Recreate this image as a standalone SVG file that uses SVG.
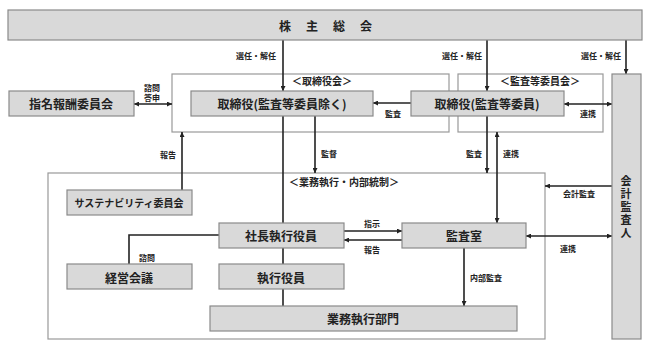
<svg xmlns="http://www.w3.org/2000/svg" width="651" height="348" viewBox="0 0 651 348">
<defs>
<marker id="ah" viewBox="0 0 6 6" refX="6" refY="3" markerWidth="5" markerHeight="5" markerUnits="userSpaceOnUse" orient="auto-start-reverse">
<path d="M0,0 L6,3 L0,6 z" fill="#222"/>
</marker>
<style>
.box{fill:#d9d9d9;stroke:#8a8a8a;stroke-width:1.2}
.frame{fill:#fff;stroke:#999;stroke-width:1.2}
.ln{fill:none;stroke:#222;stroke-width:1.6}
.a{marker-end:url(#ah)}
.b{marker-start:url(#ah);marker-end:url(#ah)}
text{font-family:"Noto Sans CJK JP","Noto Sans CJK SC",sans-serif;fill:#222;text-anchor:middle;dominant-baseline:central}
.t{font-size:12px;font-weight:bold}
.v{font-size:11px;font-weight:bold;writing-mode:vertical-rl;letter-spacing:2px}
.f{font-size:10px;font-weight:bold}
.s{font-size:8px;font-weight:bold}
</style>
</defs>
<rect width="651" height="348" fill="#fff"/>
<g id="frames">
<g id="frame-board"><rect class="frame" x="172" y="74" width="277" height="58"/><text class="f" x="322" y="80">＜取締役会＞</text></g>
<g id="frame-audit"><rect class="frame" x="458" y="74" width="145" height="58"/><text class="f" x="540" y="80">＜監査等委員会＞</text></g>
<g id="frame-exec"><rect class="frame" x="48" y="173" width="497" height="166"/><text class="f" x="344" y="181">＜業務執行・内部統制＞</text></g>
</g>
<g id="connectors">
<path class="ln a" d="M283,40 V91"/>
<path class="ln a" d="M487,40 V91"/>
<path class="ln a" d="M626,40 V74"/>
<path class="ln b" d="M134,104 H172"/>
<path class="ln a" d="M411,103 H373"/>
<path class="ln b" d="M564,104 H612"/>
<path class="ln a" d="M182,190 V132"/>
<path class="ln" d="M283,116 V223"/>
<path class="ln a" d="M315,116 V173"/>
<path class="ln a" d="M487,116 V173"/>
<path class="ln b" d="M497,132 V223"/>
<path class="ln a" d="M612,186 H545"/>
<path class="ln a" d="M344,231 H402"/>
<path class="ln a" d="M402,240 H344"/>
<path class="ln b" d="M526,236 H612"/>
<path class="ln a" d="M464,248 V306"/>
<path class="ln" d="M219,235 H129 V264"/>
<path class="ln" d="M283,248 V264"/>
<path class="ln" d="M283,289 V306"/>
<text class="s" x="256" y="55">選任・解任</text>
<text class="s" x="462" y="55">選任・解任</text>
<text class="s" x="601" y="55">選任・解任</text>
<text class="s" x="152" y="87">諮問</text>
<text class="s" x="152" y="97">答申</text>
<text class="s" x="393" y="113">監査</text>
<text class="s" x="588" y="113">連携</text>
<text class="s" x="168" y="154">報告</text>
<text class="s" x="329" y="153">監督</text>
<text class="s" x="474" y="153">監査</text>
<text class="s" x="511" y="153">連携</text>
<text class="s" x="579" y="193">会計監査</text>
<text class="s" x="372" y="223">指示</text>
<text class="s" x="372" y="249">報告</text>
<text class="s" x="568" y="248">連携</text>
<text class="s" x="486" y="277">内部監査</text>
<text class="s" x="147" y="257">諮問</text>
</g>
<g id="n-agm"><rect class="box" x="8" y="10" width="634" height="30"/><text class="t" x="333" y="25" letter-spacing="15">株主総会</text></g>
<g id="n-nom"><rect class="box" x="9" y="91" width="125" height="25"/><text class="t" x="71" y="103">指名報酬委員会</text></g>
<g id="n-dir"><rect class="box" x="191" y="91" width="182" height="25"/><text class="t" x="282" y="103">取締役(監査等委員除く)</text></g>
<g id="n-dirac"><rect class="box" x="411" y="91" width="153" height="25"/><text class="t" x="487" y="103">取締役(監査等委員)</text></g>
<g id="n-auditor"><rect class="box" x="612" y="74" width="29" height="265"/>
<text class="v" x="626" y="208">会計監査人</text></g>
<g id="n-sus"><rect class="box" x="67" y="190" width="125" height="25"/><text class="f" x="129" y="202">サステナビリティ委員会</text></g>
<g id="n-pres"><rect class="box" x="219" y="223" width="125" height="25"/><text class="t" x="281" y="235">社長執行役員</text></g>
<g id="n-mgmt"><rect class="box" x="67" y="264" width="125" height="25"/><text class="t" x="129" y="277">経営会議</text></g>
<g id="n-exec"><rect class="box" x="219" y="264" width="125" height="25"/><text class="t" x="281" y="277">執行役員</text></g>
<g id="n-audit"><rect class="box" x="402" y="223" width="124" height="25"/><text class="t" x="464" y="235">監査室</text></g>
<g id="n-ops"><rect class="box" x="210" y="306" width="307" height="25"/><text class="t" x="363" y="318">業務執行部門</text></g>
</svg>
